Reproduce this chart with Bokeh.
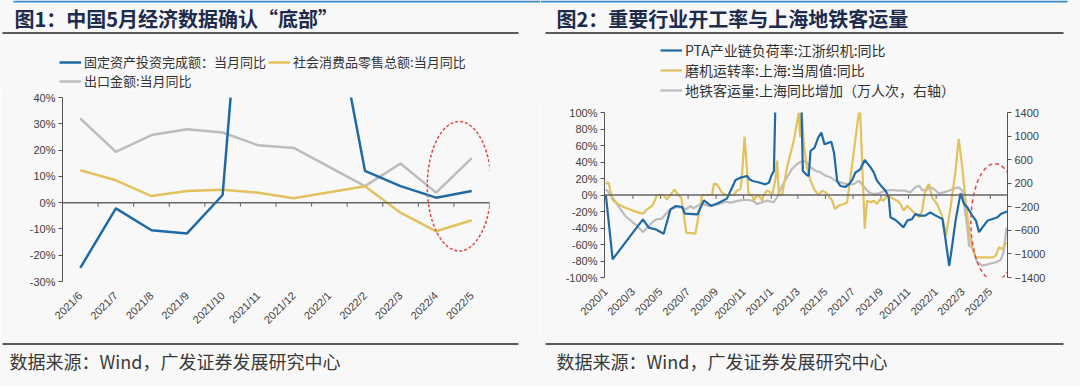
from math import pi
from datetime import datetime
import pandas as pd
from bokeh.plotting import figure
from bokeh.models import (Range1d, FactorRange, Span, Legend, LegendItem, FixedTicker,
                          PrintfTickFormatter, LinearAxis, ColumnDataSource)
from bokeh.layouts import row, column
from bokeh.embed import file_html
from bokeh.resources import INLINE
from bokeh.core.properties import value

# ---------------- texts ----------------
TITLE1 = "图1：中国5月经济数据确认“底部”"
TITLE2 = "图2：重要行业开工率与上海地铁客运量"
SOURCE = "数据来源：Wind，广发证券发展研究中心"

# ---------------- chart 1 data (monthly, % yoy) ----------------
months1 = ["2021/6", "2021/7", "2021/8", "2021/9", "2021/10", "2021/11",
           "2021/12", "2022/1", "2022/2", "2022/3", "2022/4", "2022/5"]
fai_yoy = [-24.8, -2.2, -10.5, -11.7, 2.9, 169.0, 155.0, None, 12.1, 6.3, 1.9, 4.4]
retail_yoy = [12.3, 8.5, 2.5, 4.4, 4.9, 3.8, 1.7, None, 6.2, -3.8, -10.9, -6.7]
export_yoy = [32.0, 19.3, 25.7, 27.9, 26.7, 21.8, 20.8, None, 6.3, 14.9, 3.8, 16.9]
legend1 = ["固定资产投资完成额：当月同比", "社会消费品零售总额:当月同比", "出口金额:当月同比"]

# ---------------- chart 2 data ----------------
pta_dates = ["2020-01-01", "2020-01-16", "2020-03-23", "2020-04-05", "2020-04-20", "2020-05-08",
             "2020-05-23", "2020-06-04", "2020-06-18", "2020-06-24", "2020-07-22", "2020-08-05",
             "2020-08-21", "2020-09-07", "2020-09-25", "2020-10-14", "2020-10-25", "2020-11-09",
             "2020-11-14", "2020-11-21", "2020-12-01", "2020-12-19", "2020-12-27", "2021-01-01",
             "2021-01-07", "2021-01-13", "2021-03-06", "2021-03-12", "2021-03-21", "2021-03-25",
             "2021-03-29", "2021-04-07", "2021-04-15", "2021-04-22", "2021-04-29", "2021-05-08",
             "2021-05-14", "2021-05-20", "2021-05-27", "2021-06-03", "2021-06-14", "2021-06-22",
             "2021-06-30", "2021-07-06", "2021-07-17", "2021-07-27", "2021-08-09", "2021-08-16",
             "2021-08-23", "2021-09-04", "2021-09-11", "2021-09-18", "2021-09-22", "2021-10-03",
             "2021-10-21", "2021-10-29", "2021-11-09", "2021-11-16", "2021-11-27", "2021-12-08",
             "2021-12-19", "2021-12-31", "2022-01-15", "2022-01-20", "2022-01-30", "2022-02-04",
             "2022-02-13", "2022-02-24", "2022-03-04", "2022-03-11", "2022-03-22", "2022-03-30",
             "2022-04-06", "2022-04-14", "2022-04-25", "2022-05-06", "2022-05-17", "2022-05-24",
             "2022-06-07"]
pta_vals = [0, -78, -29.5, -39.6, -41.6, -46.9,
            -17.4, -13.3, -14.5, -22.6, -23.4, -6.5,
            -13.3, -9.3, -4.4, 18.2, 21, 23,
            19, 17, 15.8, 12.9, 15, 23,
            29, 180, 180, 29, 24.2, 23,
            53.3, 57.4, 69.5, 75.6, 61.4, 63.4,
            64.6, 51.3, 17, 10.9, 9.7, 12.9,
            19, 27, 31, 42.4, 33.5, 27.5,
            17.4, 9.3, 5.3, -2.8, -27, -30.3,
            -39.2, -31.1, -29, -23, -25, -25,
            -21, -25, -29, -47, -86, -67.5,
            -31, 2, -11, -15, -25, -31,
            -45, -39, -31, -29, -27, -23,
            -20]

mill_dates = ["2020-01-01", "2020-01-07", "2020-01-15", "2020-01-18", "2020-01-29", "2020-02-13",
              "2020-02-28", "2020-03-14", "2020-03-23", "2020-04-01", "2020-04-12", "2020-04-18",
              "2020-04-23", "2020-05-08", "2020-05-15", "2020-05-23", "2020-06-01", "2020-06-09",
              "2020-06-16", "2020-06-27", "2020-07-17", "2020-07-25", "2020-08-01", "2020-08-23",
              "2020-08-27", "2020-09-03", "2020-09-14", "2020-09-22", "2020-10-10", "2020-10-17",
              "2020-10-25", "2020-10-28", "2020-11-03", "2020-11-08", "2020-11-12", "2020-11-20",
              "2020-11-23", "2020-12-01", "2020-12-08", "2020-12-12", "2020-12-15", "2020-12-23",
              "2020-12-30", "2021-01-03", "2021-01-10", "2021-01-14", "2021-01-18", "2021-01-25",
              "2021-02-05", "2021-02-20", "2021-03-03", "2021-03-06", "2021-03-10", "2021-03-14",
              "2021-03-21", "2021-03-29", "2021-04-07", "2021-04-16", "2021-04-24", "2021-05-01",
              "2021-05-08", "2021-05-16", "2021-05-22", "2021-05-30", "2021-06-11", "2021-06-18",
              "2021-06-25", "2021-07-06", "2021-07-14", "2021-07-17", "2021-07-27", "2021-08-01",
              "2021-08-09", "2021-08-16", "2021-08-23", "2021-08-31", "2021-09-07", "2021-09-15",
              "2021-09-22", "2021-09-29", "2021-10-07", "2021-10-14", "2021-10-21", "2021-10-29",
              "2021-11-05", "2021-11-16", "2021-11-24", "2021-12-01", "2021-12-08", "2021-12-16",
              "2021-12-23", "2022-01-03", "2022-01-14", "2022-01-23", "2022-02-02", "2022-02-13",
              "2022-02-20", "2022-02-28", "2022-03-07", "2022-03-15", "2022-03-22", "2022-03-30",
              "2022-04-17", "2022-05-06", "2022-05-13", "2022-05-20", "2022-05-28", "2022-06-06"]
mill_vals = [13.7, 15, -5.3, -7.3, -11.3, -15.4,
             -18.6, -21.4, -22.6, -17.4, -13.3, -7.3,
             0, 0, -5.3, 0, 6.9, 0,
             -3.2, -45.7, -46.9, -23.4, 0, 0,
             13.7, 12.9, 2.8, 0, 0, 5.3,
             7.3, 21.4, 70.7, 33.5, 0, 0,
             -6.9, 0, -2.8, -6.9, 0, 5.3,
             3.2, 0, 17.4, 41.6, 0, 0,
             33.5, 65.9, 100, 70, 100, 61.8,
             33.5, 17.4, 6, 0, 5.3, 3.2,
             -0.8, -6.9, -17, -12.9, -10.9, -8.9,
             19.4, 65.9, 100, 100, -41, -6.9,
             -8.9, -6.9, -10.9, -4.8, -6.9, 0,
             -2.8, -4.8, -6.9, -10.9, -19, -12.9,
             -17, -23, -27, -19, 5.3, 13.3,
             -2.8, -10.9, -25, -49.3, -15, 29.5,
             67.9, 33.5, -6.9, -43, -63.4, -75.6,
             -75.6, -75.6, -73.5, -63.4, -65.5, -57.4]

metro_dates = ["2020-01-01", "2020-01-11", "2020-01-26", "2020-02-13", "2020-03-06", "2020-03-23",
               "2020-04-05", "2020-04-16", "2020-04-23", "2020-05-04", "2020-05-12", "2020-05-23",
               "2020-06-06", "2020-06-18", "2020-06-27", "2020-07-06", "2020-07-13", "2020-07-21",
               "2020-08-01", "2020-08-16", "2020-08-27", "2020-09-07", "2020-09-22", "2020-10-03",
               "2020-10-21", "2020-11-01", "2020-11-12", "2020-11-23", "2020-12-01", "2020-12-12",
               "2020-12-23", "2021-01-06", "2021-01-14", "2021-01-25", "2021-02-05", "2021-02-16",
               "2021-02-27", "2021-03-12", "2021-03-21", "2021-03-29", "2021-04-09", "2021-04-20",
               "2021-05-01", "2021-05-12", "2021-05-23", "2021-06-03", "2021-06-10", "2021-06-22",
               "2021-07-03", "2021-07-14", "2021-07-25", "2021-08-05", "2021-08-16", "2021-08-27",
               "2021-09-11", "2021-09-26", "2021-10-10", "2021-10-25", "2021-11-05", "2021-11-16",
               "2021-11-24", "2021-12-01", "2021-12-08", "2021-12-19", "2021-12-27", "2022-01-07",
               "2022-01-18", "2022-01-29", "2022-02-13", "2022-02-20", "2022-02-28", "2022-03-04",
               "2022-03-11", "2022-03-15", "2022-03-22", "2022-04-02", "2022-04-14", "2022-04-28",
               "2022-05-13", "2022-05-24", "2022-05-30", "2022-06-06"]
metro_vals = [96, 11, -158, -356, -497, -627,
              -525, -441, -412, -401, -328, -243,
              -203, -215, -243, -186, -226, -186,
              -147, -186, -170, -158, -113, -130,
              -96, -85, -85, -107, -153, -124,
              -96, -124, -40, 158, 300, 441,
              525, 582, 554, 469, 412, 384,
              328, 300, 243, 215, 198, 186,
              186, 243, 141, 45, 17, 28,
              73, 85, 73, 73, 45, 130,
              158, 85, 73, 130, 102, 28,
              45, 73, 119, 130, 73, -153,
              -548, -859, -887, -1141, -1198, -1170,
              -1141, -1102, -972, -548]
legend2 = ["PTA产业链负荷率:江浙织机:同比", "磨机运转率:上海:当周值:同比",
           "地铁客运量:上海同比增加（万人次，右轴）"]
x_labels2 = ["2020/1", "2020/3", "2020/5", "2020/7", "2020/9", "2020/11", "2021/1", "2021/3",
             "2021/5", "2021/7", "2021/9", "2021/11", "2022/1", "2022/3", "2022/5"]

# ---------------- style ----------------
BG = "#f8f8f8"
BLUE = "#1f6aa5"
GOLD = "#e2c25e"
GRAY = "#bcbcbc"
RED = "#e04848"
TOPLINE = "#3a8cc8"
AXIS = "#555555"
CJK = "Noto Sans CJK SC"
LAT = "Liberation Sans"
PW, FOOT_H, BODY_H = 540, 48, 338


def deco(width, height):
    f = figure(width=width, height=height, x_range=Range1d(0, width), y_range=Range1d(height, 0),
               output_backend="svg", toolbar_location=None, min_border=0,
               x_axis_location=None, y_axis_location=None,
               background_fill_color=BG, border_fill_color=BG, outline_line_color=None)
    f.grid.visible = False
    return f


def header(title, height, tx, line_x0, line_x1, top_x0, top_x1):
    f = deco(PW, height)
    f.segment(x0=[top_x0], y0=[1], x1=[top_x1], y1=[1], line_color=TOPLINE, line_width=2)
    f.text(x=[tx], y=[17.5], text=[title], text_font=value(CJK), text_font_style="bold",
           text_font_size="20px", text_color="#1d2b4c", text_baseline="middle")
    f.segment(x0=[line_x0], y0=[32.5], x1=[line_x1], y1=[32.5], line_color="#262626", line_width=1.5)
    return f


def footer(tx, line_x0, line_x1):
    f = deco(PW, FOOT_H)
    f.segment(x0=[line_x0], y0=[5.5], x1=[line_x1], y1=[5.5], line_color="#262626", line_width=1.5)
    f.text(x=[tx], y=[22], text=[SOURCE], text_font=value(CJK), text_font_size="18px",
           text_color="#3a3a3a", text_baseline="middle")
    return f


def legend_key(fig, color, width):
    # a key line that only serves the legend; its points lie outside the visible range
    return fig.line(x=[-50, -40], y=[-50, -50], line_color=color, line_width=width)


def style_legend(leg, size):
    leg.background_fill_alpha = 0
    leg.border_line_color = None
    leg.padding = 0
    leg.margin = 0
    leg.spacing = 2
    leg.glyph_width = 22
    leg.glyph_height = 12
    leg.label_height = 12
    leg.label_standoff = 3
    leg.label_text_font = CJK
    leg.label_text_font_size = size
    leg.label_text_color = "#333333"
    leg.label_text_baseline = "middle"


def style_yaxis(ax):
    ax.axis_line_color = AXIS
    ax.major_tick_line_color = AXIS
    ax.major_tick_out = 4
    ax.major_tick_in = 0
    ax.minor_tick_line_color = None
    ax.major_label_text_font = LAT
    ax.major_label_text_font_size = "11px"
    ax.major_label_text_color = "#404040"
    ax.major_label_standoff = 3


def style_xaxis(ax):
    ax.axis_line_color = None
    ax.major_tick_line_color = None
    ax.minor_tick_line_color = None
    ax.major_label_orientation = pi / 4
    ax.major_label_text_font = LAT
    ax.major_label_text_font_size = "11px"
    ax.major_label_text_color = "#404040"
    ax.major_label_standoff = 6


def valid(cats, vals):
    xs = [c for c, v in zip(cats, vals) if v is not None]
    ys = [v for v in vals if v is not None]
    return xs, ys


# ================= chart 1 =================
HEAD1 = 90
h1 = header(TITLE1, HEAD1, 14, 2, 518, 13, 540)
p1 = figure(width=PW, height=BODY_H - HEAD1, x_range=FactorRange(*months1), y_range=Range1d(-30, 40),
            output_backend="svg", toolbar_location=None,
            min_border_left=62, min_border_right=51, min_border_top=7, min_border_bottom=57,
            background_fill_color=BG, border_fill_color=BG, outline_line_color=None)
p1.grid.visible = False
p1.yaxis.ticker = FixedTicker(ticks=list(range(-30, 41, 10)))
p1.yaxis.formatter = PrintfTickFormatter(format="%d%%")
style_yaxis(p1.yaxis[0])
style_xaxis(p1.xaxis[0])
p1.add_layout(Span(location=0, dimension="width", line_color="#666666", line_width=1.5))
p1.segment(x0=[(m, 0.5) for m in months1], y0=0, x1=[(m, 0.5) for m in months1], y1=-1.6,
           line_color="#666666", line_width=1)

r_exp = p1.line(*valid(months1, export_yoy), line_color=GRAY, line_width=2.5)
r_ret = p1.line(*valid(months1, retail_yoy), line_color=GOLD, line_width=2.5)
r_fai = p1.line(*valid(months1, fai_yoy), line_color=BLUE, line_width=2.5)
p1.ellipse(x=[("2022/4", 0.65)], y=[6.25], width=1.8, height=49.3, fill_color=None,
           line_color=RED, line_dash="3 2", line_width=1.5)

k_fai = legend_key(h1, BLUE, 2.5)
k_ret = legend_key(h1, GOLD, 2.5)
k_exp = legend_key(h1, GRAY, 2.5)
leg1a = Legend(items=[LegendItem(label=legend1[0], renderers=[k_fai]),
                      LegendItem(label=legend1[1], renderers=[k_ret])],
               orientation="horizontal", location=(59, 19))
leg1b = Legend(items=[LegendItem(label=legend1[2], renderers=[k_exp])],
               orientation="horizontal", location=(59, 0))
for lg in (leg1a, leg1b):
    style_legend(lg, "13px")
    h1.add_layout(lg)
f1 = footer(9, 2, 518)

# ================= chart 2 =================
HEAD2 = 100
h2 = header(TITLE2, HEAD2, 16, 5, 523, 0, 527)
X2_START, X2_END = "2019-12-29", "2022-06-08"
p2 = figure(width=PW, height=BODY_H - HEAD2, x_axis_type="datetime",
            x_range=Range1d(pd.Timestamp(X2_START), pd.Timestamp(X2_END)),
            y_range=Range1d(-100, 100),
            output_backend="svg", toolbar_location=None,
            min_border_left=64, min_border_right=73, min_border_top=12, min_border_bottom=61,
            background_fill_color=BG, border_fill_color=BG, outline_line_color=None)
p2.grid.visible = False
p2.extra_y_ranges = {"metro": Range1d(-1400, 1400)}
p2.yaxis.ticker = FixedTicker(ticks=list(range(-100, 101, 20)))
p2.yaxis.formatter = PrintfTickFormatter(format="%d%%")
style_yaxis(p2.yaxis[0])
ax_r = LinearAxis(y_range_name="metro", ticker=FixedTicker(ticks=list(range(-1400, 1401, 400))))
style_yaxis(ax_r)
p2.add_layout(ax_r, "right")

tick_dates = [datetime(int(s.split("/")[0]), int(s.split("/")[1]), 1) for s in x_labels2]
tick_ms = [int(pd.Timestamp(d).value // 10**6) for d in tick_dates]
p2.xaxis.ticker = FixedTicker(ticks=tick_ms)
p2.xaxis.major_label_overrides = {ms: lbl for ms, lbl in zip(tick_ms, x_labels2)}
style_xaxis(p2.xaxis[0])
p2.add_layout(Span(location=0, dimension="width", line_color="#666666", line_width=1.5))
p2.segment(x0=tick_dates[1:], y0=0, x1=tick_dates[1:], y1=-4.8, line_color="#666666", line_width=1)

src_pta = ColumnDataSource(dict(x=pd.to_datetime(pta_dates), y=pta_vals))
src_mill = ColumnDataSource(dict(x=pd.to_datetime(mill_dates), y=mill_vals))
src_metro = ColumnDataSource(dict(x=pd.to_datetime(metro_dates), y=metro_vals))
r_metro = p2.line("x", "y", source=src_metro, line_color=GRAY, line_width=2.2, y_range_name="metro")
r_mill = p2.line("x", "y", source=src_mill, line_color=GOLD, line_width=2.2)
r_pta = p2.line("x", "y", source=src_pta, line_color=BLUE, line_width=2.2)
p2.ellipse(x=[pd.Timestamp("2022-05-11")], y=[-33], width=106 * 86400000, height=142,
           fill_color=None, line_color=RED, line_dash="4 3", line_width=1.5)

k_pta = legend_key(h2, BLUE, 2.2)
k_mill = legend_key(h2, GOLD, 2.2)
k_metro = legend_key(h2, GRAY, 2.2)
leg2 = Legend(items=[LegendItem(label=legend2[0], renderers=[k_pta]),
                     LegendItem(label=legend2[1], renderers=[k_mill]),
                     LegendItem(label=legend2[2], renderers=[k_metro])],
              orientation="vertical", location=(120, 0))
style_legend(leg2, "14px")
leg2.spacing = 0
h2.add_layout(leg2)
f2 = footer(16, 5, 523)

# ================= layout (each figure in its own row so frames stay independent) =================
panel1 = column(row(h1), row(p1), row(f1))
panel2 = column(row(h2), row(p2), row(f2))
layout = row(panel1, panel2)
open("out.html", "w").write(file_html(layout, INLINE))
